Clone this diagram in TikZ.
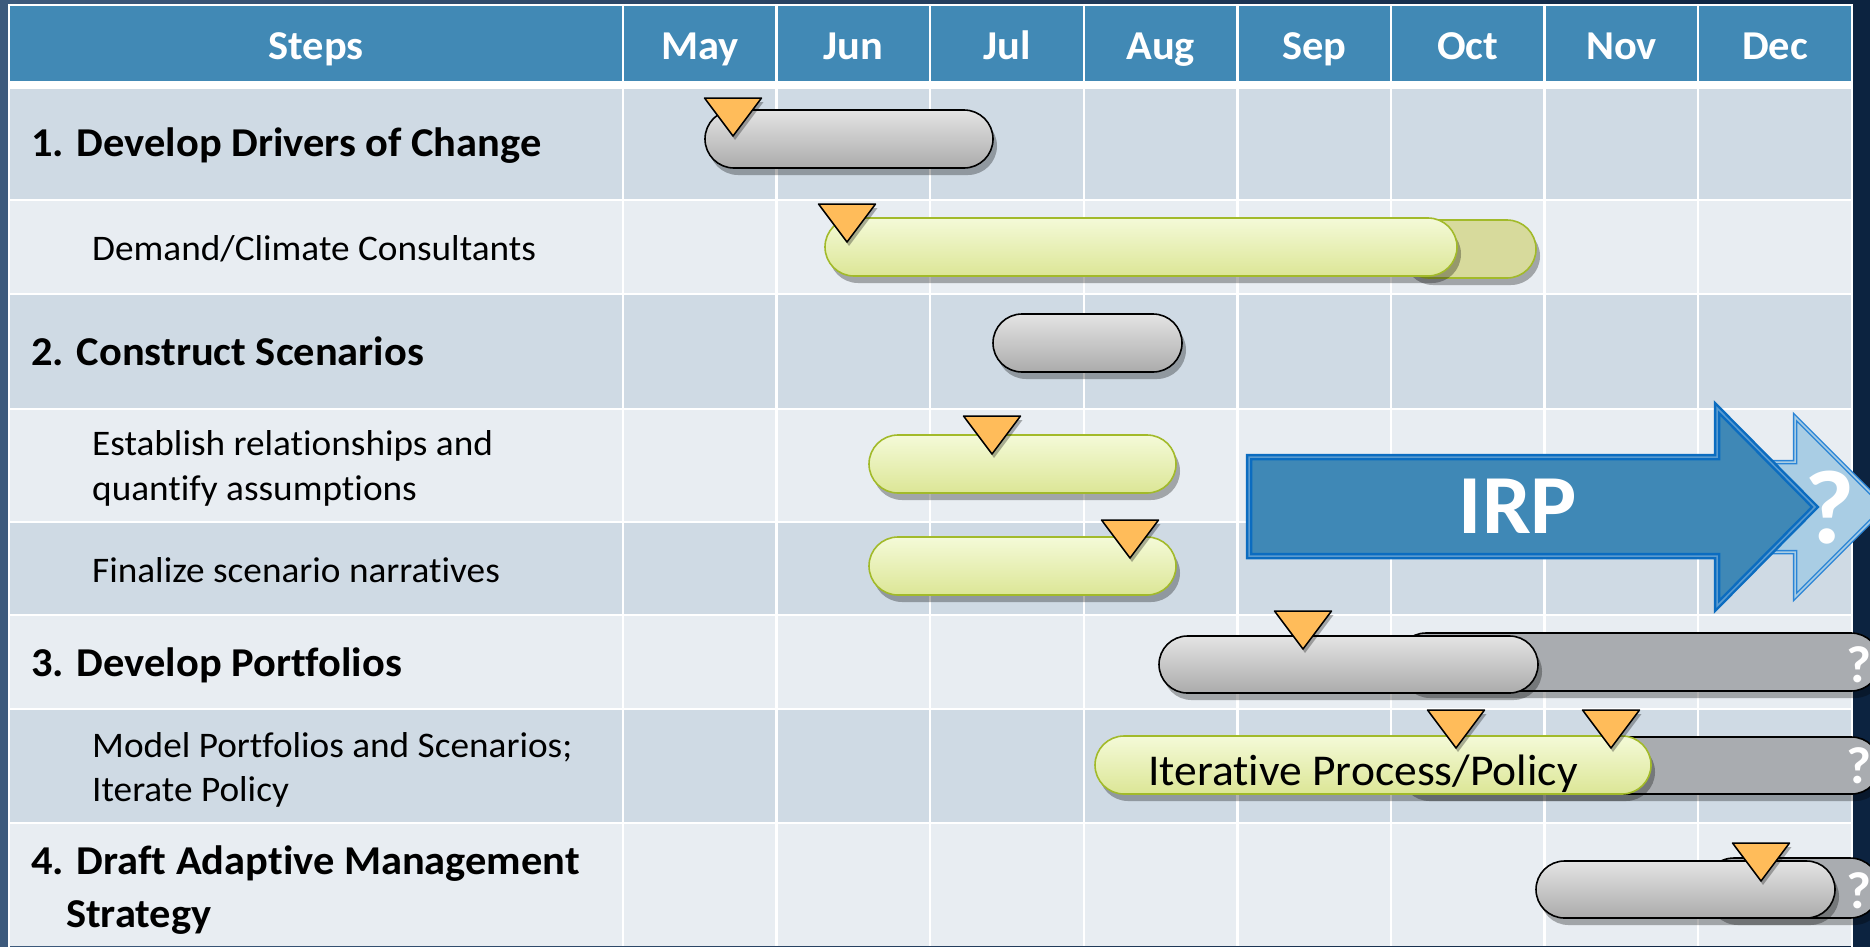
\documentclass[tikz,border=0pt]{standalone}
\usepackage{fontspec}
\setmainfont{Carlito}[FakeStretch=1.035,Ligatures=NoCommon]
\usetikzlibrary{shapes.misc}
\usetikzlibrary{shadows}
\usetikzlibrary{positioning}

\definecolor{slideleft}{HTML}{3D5A7C}
\definecolor{slideright}{HTML}{0C2340}
\definecolor{hdrblue}{HTML}{4189B5}
\definecolor{rowdark}{HTML}{CFDAE4}
\definecolor{rowlight}{HTML}{E8EDF2}
\definecolor{greytop}{HTML}{E4E4E4}
\definecolor{greybot}{HTML}{ABABAB}
\definecolor{greentop}{HTML}{F4FAD8}
\definecolor{greenbot}{HTML}{DCE696}
\definecolor{greenline}{HTML}{A2BA2A}
\definecolor{oliverest}{HTML}{D7DA9C}
\definecolor{greyrest}{HTML}{A9ACB0}
\definecolor{milefill}{HTML}{FFBC5A}
\definecolor{irpfill}{HTML}{3F88B6}
\definecolor{irpline}{HTML}{0B6CC0}
\definecolor{irpinner}{HTML}{5A9BD0}
\definecolor{nextfill}{HTML}{A9CDE4}
\definecolor{nextline}{HTML}{2A84D6}

\begin{document}
\begin{tikzpicture}[x=1pt,y=-1pt,node distance=153.6pt,
  monthlbl/.style={text=white,font=\fontsize{41}{48}\selectfont\bfseries,text height=28pt,text depth=9pt},
  stephead/.style={anchor=base west,inner sep=0pt,font=\fontsize{41}{46}\selectfont\bfseries},
  substep/.style={anchor=base west,inner sep=0pt,font=\fontsize{36}{43}\selectfont},
  ganttbar/.style={rounded rectangle,minimum height=58pt,inner sep=0pt,line width=1.6pt,
    drop shadow={shadow xshift=4pt,shadow yshift=-7pt,opacity=.3,fill=black}},
  greybar/.style={ganttbar,draw=black,top color=greytop,bottom color=greybot},
  greenbar/.style={ganttbar,draw=greenline,top color=greentop,bottom color=greenbot},
  greyext/.style={ganttbar,draw=black,fill=greyrest},
  greenext/.style={ganttbar,draw=greenline,fill=oliverest},
  milestone/.style={draw=black,fill=milefill,line width=1.5pt,line join=round,
    drop shadow={shadow xshift=2pt,shadow yshift=-4pt,opacity=.3,fill=black}},
  gridline/.style={white,line width=2.5pt},
  irparrow/.style={fill=irpfill,draw=irpline,line width=2.5pt,double=irpinner,double distance=1.5pt},
  nextarrow/.style={fill=nextfill,draw=nextline,line width=1.5pt,double=nextfill,double distance=1.5pt},
  qmark/.style={anchor=base,text=white,inner sep=0pt,font=\fontsize{52}{52}\selectfont\bfseries}]
  \useasboundingbox (0,0) rectangle (1870,946);
  \clip (0,0) rectangle (1870,946);
  \fill[left color=slideleft,right color=slideright] (0,0) rectangle (1870,946);

  \fill[hdrblue] (9,5) rectangle (1852,81);
  \fill[white] (9,81) rectangle (1852,89);
  \fill[rowdark] (9,89) rectangle (1852,200);
  \fill[rowlight] (9,200) rectangle (1852,294);
  \fill[rowdark] (9,294) rectangle (1852,409);
  \fill[rowlight] (9,409) rectangle (1852,522);
  \fill[rowdark] (9,522) rectangle (1852,615);
  \fill[rowlight] (9,615) rectangle (1852,709);
  \fill[rowdark] (9,709) rectangle (1852,823);
  \fill[rowlight] (9,823) rectangle (1852,946);
  \draw[gridline] (9,200) -- (1852,200) (9,294) -- (1852,294) (9,409) -- (1852,409)
    (9,522) -- (1852,522) (9,615) -- (1852,615) (9,709) -- (1852,709) (9,823) -- (1852,823);
  \draw[gridline] (623,5) -- (623,946) (776.6,5) -- (776.6,946) (930.2,5) -- (930.2,946)
    (1083.8,5) -- (1083.8,946) (1237.4,5) -- (1237.4,946) (1391,5) -- (1391,946)
    (1544.6,5) -- (1544.6,946) (1698.2,5) -- (1698.2,946);
  \draw[gridline] (9,950) -- (9,5) -- (1852,5) -- (1852,950);

  \node[monthlbl] (steps) at (316,49.5) {Steps};
  \node[monthlbl] (may) at (699.8,49.5) {May};
  \node[monthlbl,right of=may] (jun) {Jun};
  \node[monthlbl,right of=jun] (jul) {Jul};
  \node[monthlbl,right of=jul] (aug) {Aug};
  \node[monthlbl,right of=aug] (sep) {Sep};
  \node[monthlbl,right of=sep] (oct) {Oct};
  \node[monthlbl,right of=oct] (nov) {Nov};
  \node[monthlbl,right of=nov] (dec) {Dec};

  \node[stephead] (s1) at (31,156) {1. Develop Drivers of Change};
  \node[substep] (s1a) at (92,260) {Demand/Climate Consultants};
  \node[stephead] (s2) at (31,365) {2. Construct Scenarios};
  \node[substep] (s2a) at (92,455) {Establish relationships and};
  \node[substep] (s2b) at (92,500) {quantify assumptions};
  \node[substep] (s2c) at (92,582) {Finalize scenario narratives};
  \node[stephead] (s3) at (31,676) {3. Develop Portfolios};
  \node[substep] (s3a) at (92,757) {Model Portfolios and Scenarios;};
  \node[substep] (s3b) at (92,801) {Iterate Policy};
  \node[stephead] (s4) at (31,874) {4. Draft Adaptive Management};
  \node[stephead] (s4b) at (66,927) {Strategy};

  \node[greenext,minimum width=136pt] (e1a) at (1468,249) {};
  \node[greyext,minimum width=483pt] (e3) at (1638.5,662) {};
  \node[greyext,minimum width=483pt,minimum height=57pt] (e3a) at (1638.5,765.5) {};
  \node[greyext,minimum width=176pt,minimum height=60pt] (e4) at (1792,888) {};
  \node[qmark] (q3) at (1859,682) {?};
  \node[qmark] (q3a) at (1859,783) {?};
  \node[qmark] (q4) at (1859,908) {?};

  \node[greybar,minimum width=288pt] (b1) at (849,139) {};
  \node[greenbar,minimum width=632pt] (b1a) at (1141,247) {};
  \node[greybar,minimum width=189pt] (b2) at (1087.5,343) {};
  \node[greenbar,minimum width=307pt] (b2a) at (1022.5,464) {};
  \node[greenbar,minimum width=307pt] (b2c) at (1022.5,566) {};
  \node[greybar,minimum width=379pt,minimum height=57pt] (b3) at (1348.5,664.5) {};
  \node[greenbar,minimum width=556pt] (b3a) at (1373,765) {};
  \node[greybar,minimum width=299pt,minimum height=57pt] (b4) at (1685.5,889.5) {};
  \node[anchor=base,inner sep=0pt,font=\fontsize{44}{44}\selectfont] (iter) at (1363,785) {Iterative Process/Policy};

  \filldraw[milestone] (704.5,98) -- (761.5,98) -- (733,136) -- cycle;
  \filldraw[milestone] (818.5,204) -- (875.5,204) -- (847,242) -- cycle;
  \filldraw[milestone] (963.5,416) -- (1020.5,416) -- (992,454) -- cycle;
  \filldraw[milestone] (1101.5,520) -- (1158.5,520) -- (1130,558) -- cycle;
  \filldraw[milestone] (1274.5,611) -- (1331.5,611) -- (1303,649) -- cycle;
  \filldraw[milestone] (1427.5,710) -- (1484.5,710) -- (1456,748) -- cycle;
  \filldraw[milestone] (1582.5,710) -- (1639.5,710) -- (1611,748) -- cycle;
  \filldraw[milestone] (1732.5,843) -- (1789.5,843) -- (1761,881) -- cycle;

  \filldraw[nextarrow] (1500,462) -- (1795,462) -- (1795,417) -- (1885,507) -- (1795,597) -- (1795,552) -- (1500,552) -- cycle;
  \filldraw[irparrow] (1249,457) -- (1717,457) -- (1717,408) -- (1815,507) -- (1717,606) -- (1717,556) -- (1249,556) -- cycle;
  \node[anchor=base,text=white,inner sep=0pt,font=\fontsize{84}{84}\selectfont\bfseries] (irp) at (1518,533) {IRP};
  \node[qmark,font=\fontsize{105}{105}\selectfont\bfseries] (q0) at (1830,543) {?};
\end{tikzpicture}
\end{document}
